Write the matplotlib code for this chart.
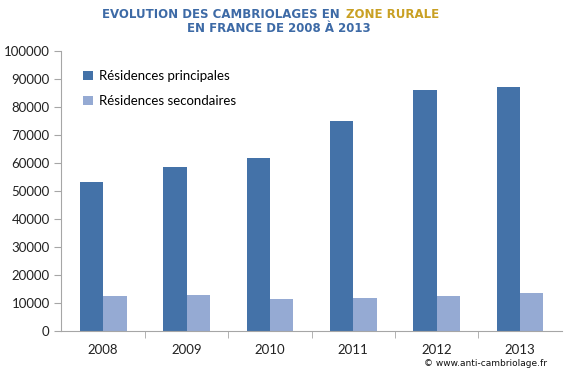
import matplotlib
matplotlib.use("Agg")
import matplotlib.pyplot as plt
import numpy as np

# data
years = ["2008", "2009", "2010", "2011", "2012", "2013"]
principales = [53300, 58600, 61800, 75000, 86200, 87200]
secondaires = [12500, 12900, 11500, 11800, 12500, 13600]

blue_dark = "#4472A8"
blue_light = "#95AAD3"
axis_grey = "#A6A6A6"

plt.rcParams['font.family'] = ['Lato', 'DejaVu Sans']

fig = plt.figure(figsize=(5.64, 3.78), dpi=100)
ax = fig.add_axes([0.109, 0.124, 0.887, 0.741])

x = np.arange(len(years))
w = 0.28
ax.bar(x - w / 2, principales, w, color=blue_dark, label="Résidences principales")
ax.bar(x + w / 2, secondaires, w, color=blue_light, label="Résidences secondaires")

ax.set_xlim(-0.5, len(years) - 0.5)
ax.set_ylim(0, 100000)
ax.set_yticks(range(0, 100001, 10000))
ax.set_xticks(x)
ax.set_xticklabels(years)
ax.set_xticks(np.arange(0.5, len(years) - 0.5, 1), minor=True)
ax.tick_params(axis='x', which='major', length=0, pad=9, labelsize=9.5, colors='#222222')
ax.tick_params(axis='x', which='minor', length=5, color=axis_grey)
ax.tick_params(axis='y', length=5, color=axis_grey, labelsize=9.5, labelcolor='#222222')

for side in ("top", "right"):
    ax.spines[side].set_visible(False)
for side in ("left", "bottom"):
    ax.spines[side].set_color(axis_grey)

ax.legend(loc="upper left", bbox_to_anchor=(0.02, 0.975), frameon=False,
          fontsize=9.5, handlelength=0.7, handleheight=0.7, handletextpad=0.5,
          labelspacing=1.0)

# two-colour title
title_font = dict(fontsize=8.5, fontweight='bold', family=['DejaVu Sans'])
fig.text(340 / 564, 1 - 14 / 378, "EVOLUTION DES CAMBRIOLAGES EN", color="#3D6AA6",
         ha='right', va='center', **title_font)
fig.text(346 / 564, 1 - 14 / 378, "ZONE RURALE", color="#C9A023",
         ha='left', va='center', **title_font)
fig.text(279 / 564, 1 - 28 / 378, "EN FRANCE DE 2008 À 2013", color="#3D6AA6",
         ha='center', va='center', **title_font)

fig.text(486 / 564, 1 - 363 / 378, "© www.anti-cambriolage.fr", fontsize=6.5,
         ha='center', va='center', color='#111111', family=['DejaVu Sans'])

fig.savefig("out.png", dpi=100)
